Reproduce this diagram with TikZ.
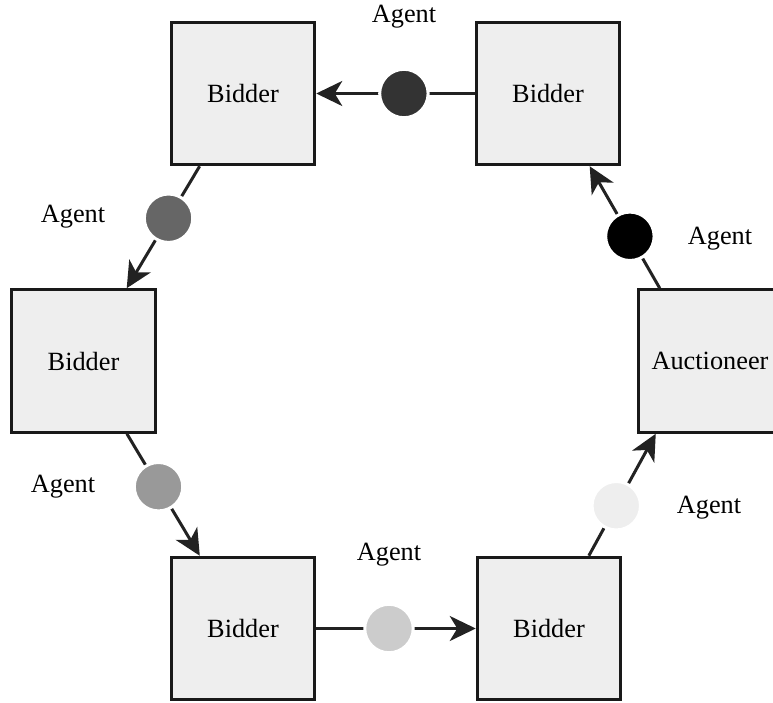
\documentclass[tikz,border=0pt]{standalone}
\usepackage{fontspec}
\setmainfont{Liberation Serif}
\usetikzlibrary{arrows.meta,calc}
\definecolor{boxfill}{HTML}{EEEEEE}
\definecolor{wire}{HTML}{222222}
\definecolor{dotA}{HTML}{333333}
\definecolor{dotB}{HTML}{666666}
\definecolor{dotC}{HTML}{999999}
\definecolor{dotD}{HTML}{CCCCCC}
\definecolor{dotE}{HTML}{EEEEEE}
\definecolor{dotF}{HTML}{000000}
\begin{document}
\begin{tikzpicture}[x=1pt,y=-1pt,
  party/.style={draw=black!90, line width=3pt, fill=boxfill, minimum width=143.5pt,
    minimum height=142.5pt, inner sep=0pt, font=\fontsize{26.3}{30}\selectfont},
  agentdot/.style={circle, fill=#1, draw=white, line width=3pt,
    minimum size=48.4pt, inner sep=0pt},
  lbl/.style={font=\fontsize{26.3}{30}\selectfont, inner sep=0pt},
  flow/.style={draw=wire, line width=3pt,
    -{Stealth[length=26pt,width=25pt,inset=7.5pt]}},
]
\useasboundingbox (0,0) rectangle (773,702);

% parties around the ring
\node[party] (tl)  at (243,93.5)  {Bidder};
\node[party] (tr)  at (548,93.5)  {Bidder};
\node[party] (l)   at (83.5,361)  {Bidder};
\node[party] (auc) at (710,361)   {Auctioneer};
\node[party] (bl)  at (243,628.5) {Bidder};
\node[party] (br)  at (549,628.5) {Bidder};

% where the links meet the auctioneer
\coordinate (aucS) at ($(auc.south west)+(19,0)$);
\coordinate (aucN) at ($(auc.north west)+(23,0)$);

% links, each carrying an agent
\draw[flow] (tr) -- node[agentdot=dotA, pos=0.447] {} (tl);
\draw[flow] (tl) -- node[agentdot=dotB, pos=0.426] {} (l);
\draw[flow] (l)  -- node[agentdot=dotC, pos=0.434] {} (bl);
\draw[flow] (bl) -- node[agentdot=dotD, pos=0.456] {} (br);
\draw[flow] (br) -- node[agentdot=dotE, pos=0.41]  {} (aucS);
\draw[flow] (aucN) -- node[agentdot=dotF, pos=0.426] {} (tr);

% agent labels
\node[lbl] (la) at (404,17)  {Agent};
\node[lbl] (lb) at (73,217)  {Agent};
\node[lbl] (lc) at (63,487)  {Agent};
\node[lbl] (ld) at (389,555) {Agent};
\node[lbl] (le) at (709,508) {Agent};
\node[lbl] (lf) at (720,239) {Agent};
\end{tikzpicture}
\end{document}
